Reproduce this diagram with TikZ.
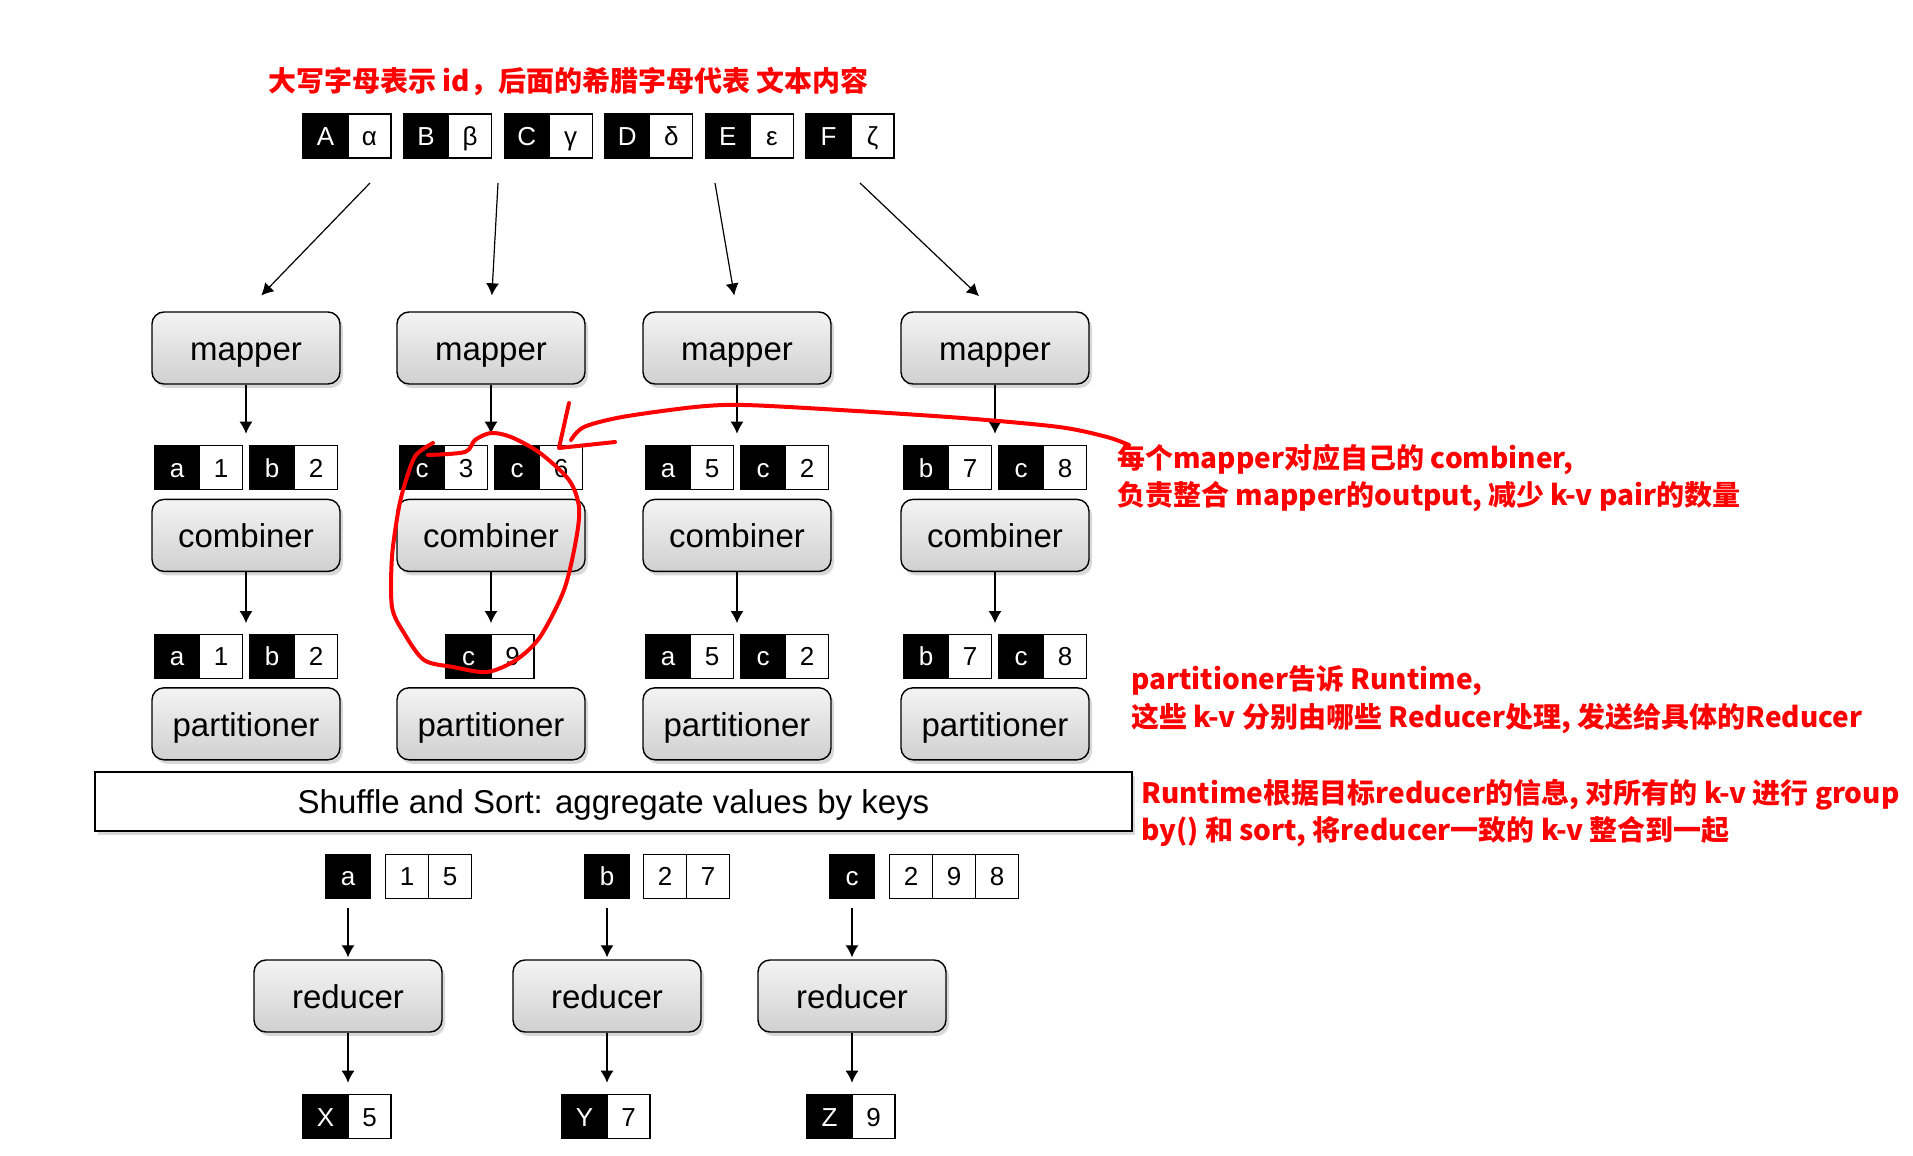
\documentclass[tikz,border=0pt]{standalone}
\usepackage{fontspec}
\usepackage{tikz}
\usetikzlibrary{arrows.meta,positioning,shadows}
\newfontfamily\arialfont{Liberation Sans}
\newfontfamily\cjk{Noto Sans CJK SC}
\definecolor{inkred}{HTML}{FF0000}
\definecolor{boxtop}{HTML}{F4F4F4}
\definecolor{boxbot}{HTML}{D0D0D0}

\begin{document}
\begin{tikzpicture}[x=0.5pt,y=-0.5pt,every node/.style={font=\arialfont\fontsize{16.5}{20}\selectfont},task/.style={draw,line width=0.7pt,rounded corners=6pt,top color=boxtop,bottom color=boxbot,minimum width=94pt,minimum height=36pt,text height=12.3pt,text depth=0pt,drop shadow={shadow xshift=1.5pt,shadow yshift=-2pt,opacity=0.3}},kcell/.style={draw,line width=0.6pt,fill=black,text=white,minimum width=22.5pt,minimum height=22pt,inner sep=0pt,outer sep=0pt,text height=9.4pt,text depth=0pt,font=\arialfont\fontsize{13}{13}\selectfont},vcell/.style={kcell,fill=white,text=black,minimum width=21.5pt},arr/.style={-{Latex[length=6pt,width=6.5pt]},line width=0.6pt},note/.style={text=inkred,font=\cjk\bfseries\fontsize{14}{18.9}\selectfont,align=left,anchor=west,inner sep=0pt},scrawl/.style={inkred,line width=2pt,line cap=round,line join=round}]
\useasboundingbox[fill=white] (0,0) rectangle (1913,1156);
\node[note] (title) at (268,82) {大写字母表示 id，后面的希腊字母代表 文本内容};
% input records
\node[kcell] (kA) at (325.5,136) {A};
\node[vcell,right=0pt of kA] (vA) {α};
\node[kcell,right=6.3pt of vA] (kB) {B};
\node[vcell,right=0pt of kB] (vB) {β};
\node[kcell,right=6.3pt of vB] (kC) {C};
\node[vcell,right=0pt of kC] (vC) {γ};
\node[kcell,right=6.3pt of vC] (kD) {D};
\node[vcell,right=0pt of kD] (vD) {δ};
\node[kcell,right=6.3pt of vD] (kE) {E};
\node[vcell,right=0pt of kE] (vE) {ε};
\node[kcell,right=6.3pt of vE] (kF) {F};
\node[vcell,right=0pt of kF] (vF) {ζ};
\coordinate (s1) at (370,183);
\coordinate (s2) at (498,183);
\coordinate (s3) at (715,183);
\coordinate (s4) at (860,183);
% map side
\node[task] (map1) at (246,348) {mapper};
\node[task] (map2) at (491,348) {mapper};
\node[task] (map3) at (737,348) {mapper};
\node[task] (map4) at (995,348) {mapper};
\node[task,below=57pt of map1] (cmb1) {combiner};
\node[task,below=57pt of map2] (cmb2) {combiner};
\node[task,below=57pt of map3] (cmb3) {combiner};
\node[task,below=57pt of map4] (cmb4) {combiner};
\node[task,below=57.5pt of cmb1] (prt1) {partitioner};
\node[task,below=57.5pt of cmb2] (prt2) {partitioner};
\node[task,below=57.5pt of cmb3] (prt3) {partitioner};
\node[task,below=57.5pt of cmb4] (prt4) {partitioner};
% mapper output
\node[vcell,above left=4.5pt and 1.75pt of cmb1.north] (v11) {1};
\node[kcell,left=0pt of v11] (k11) {a};
\node[kcell,above right=4.5pt and 1.75pt of cmb1.north] (k12) {b};
\node[vcell,right=0pt of k12] (v12) {2};
\node[vcell,above left=4.5pt and 1.75pt of cmb2.north] (v13) {3};
\node[kcell,left=0pt of v13] (k13) {c};
\node[kcell,above right=4.5pt and 1.75pt of cmb2.north] (k14) {c};
\node[vcell,right=0pt of k14] (v14) {6};
\node[vcell,above left=4.5pt and 1.75pt of cmb3.north] (v15) {5};
\node[kcell,left=0pt of v15] (k15) {a};
\node[kcell,above right=4.5pt and 1.75pt of cmb3.north] (k16) {c};
\node[vcell,right=0pt of k16] (v16) {2};
\node[vcell,above left=4.5pt and 1.75pt of cmb4.north] (v17) {7};
\node[kcell,left=0pt of v17] (k17) {b};
\node[kcell,above right=4.5pt and 1.75pt of cmb4.north] (k18) {c};
\node[vcell,right=0pt of k18] (v18) {8};
% combiner output
\node[vcell,above left=4.5pt and 1.75pt of prt1.north] (v21) {1};
\node[kcell,left=0pt of v21] (k21) {a};
\node[kcell,above right=4.5pt and 1.75pt of prt1.north] (k22) {b};
\node[vcell,right=0pt of k22] (v22) {2};
\node[kcell,above left=4.5pt and 0pt of prt2.north] (k23) {c};
\node[vcell,right=0pt of k23] (v23) {9};
\node[vcell,above left=4.5pt and 1.75pt of prt3.north] (v25) {5};
\node[kcell,left=0pt of v25] (k25) {a};
\node[kcell,above right=4.5pt and 1.75pt of prt3.north] (k26) {c};
\node[vcell,right=0pt of k26] (v26) {2};
\node[vcell,above left=4.5pt and 1.75pt of prt4.north] (v27) {7};
\node[kcell,left=0pt of v27] (k27) {b};
\node[kcell,above right=4.5pt and 1.75pt of prt4.north] (k28) {c};
\node[vcell,right=0pt of k28] (v28) {8};
\node[draw,line width=0.6pt,fill=white,minimum width=518.5pt,minimum height=29.5pt,text height=12.3pt,text depth=0pt,drop shadow={shadow xshift=1.5pt,shadow yshift=-2pt,opacity=0.3}] (shuffle) at (613.5,801.5) {Shuffle and Sort: aggregate values by keys};
% reduce side
\node[task] (red1) at (348,996) {reducer};
\node[task] (red2) at (607,996) {reducer};
\node[task] (red3) at (852,996) {reducer};
\node[kcell,above=30.5pt of red1] (ka) {a};
\node[vcell,right=7.5pt of ka] (ka1) {1};
\node[vcell,right=0pt of ka1] (ka2) {5};
\node[kcell,above=30.5pt of red2] (kb) {b};
\node[vcell,right=7pt of kb] (kb1) {2};
\node[vcell,right=0pt of kb1] (kb2) {7};
\node[kcell,above=30.5pt of red3] (kc) {c};
\node[vcell,right=7.5pt of kc] (kc1) {2};
\node[vcell,right=0pt of kc1] (kc2) {9};
\node[vcell,right=0pt of kc2] (kc3) {8};
\node[kcell,below left=31pt and 0pt of red1.south] (kx) {X};
\node[vcell,right=0pt of kx] (vx) {5};
\node[kcell,below left=31pt and 0pt of red2.south] (ky) {Y};
\node[vcell,right=0pt of ky] (vy) {7};
\node[kcell,below left=31pt and 0pt of red3.south] (kz) {Z};
\node[vcell,right=0pt of kz] (vz) {9};
% arrows
\draw[arr,shorten >=11pt] (s1) -- (map1.north);
\draw[arr,shorten >=8pt] (s2) -- (map2.north);
\draw[arr,shorten >=8pt] (s3) -- (map3.north);
\draw[arr,shorten >=11pt] (s4) -- (map4.north);
\draw[arr,shorten >=6pt] (map1.south) -- (map1.south |- k11.north);
\draw[arr,shorten >=6pt] (map2.south) -- (map2.south |- k13.north);
\draw[arr,shorten >=6pt] (map3.south) -- (map3.south |- k15.north);
\draw[arr,shorten >=6pt] (map4.south) -- (map4.south |- k17.north);
\draw[arr,shorten >=5.5pt] (cmb1.south) -- (cmb1.south |- k21.north);
\draw[arr,shorten >=5.5pt] (cmb2.south) -- (cmb2.south |- k23.north);
\draw[arr,shorten >=5.5pt] (cmb3.south) -- (cmb3.south |- k25.north);
\draw[arr,shorten >=5.5pt] (cmb4.south) -- (cmb4.south |- k27.north);
\draw[arr,shorten <=5pt,shorten >=1pt] (ka.south) -- (ka.south |- red1.north);
\draw[arr,shorten <=5pt,shorten >=1pt] (kb.south) -- (kb.south |- red2.north);
\draw[arr,shorten <=5pt,shorten >=1pt] (kc.south) -- (kc.south |- red3.north);
\draw[arr,shorten >=6pt] (red1.south) -- (red1.south |- kx.north);
\draw[arr,shorten >=6pt] (red2.south) -- (red2.south |- ky.north);
\draw[arr,shorten >=6pt] (red3.south) -- (red3.south |- kz.north);
% notes
\node[note] (note1) at (1117,478) {每个mapper对应自己的 combiner,\\负责整合 mapper的output, 减少 k-v pair的数量};
\node[note] (note2) at (1131,700) {partitioner告诉 Runtime,\\这些 k-v 分别由哪些 Reducer处理, 发送给具体的Reducer};
\node[note] (note3) at (1141,813) {Runtime根据目标reducer的信息, 对所有的 k-v 进行 group\\by() 和 sort, 将reducer一致的 k-v 整合到一起};
% hand marks
\draw[scrawl] plot[smooth] coordinates {(428,455) (465,452) (475,440) (491,433) (511,437) (540,453) (569,480) (579,507) (576,540) (564,590) (540,637) (516,660) (487,672) (453,667) (424,660) (404,633) (392,607) (392,557) (399,507) (407,477) (416,455) (433,443)};
\draw[scrawl] (569,403) -- (559,448) -- (615,442);
\draw[scrawl] plot[smooth] coordinates {(571,440) (584,427) (622,417) (695,407) (744,405) (840,410) (962,418) (1059,427) (1107,437) (1129,445)};
\end{tikzpicture}
\end{document}
